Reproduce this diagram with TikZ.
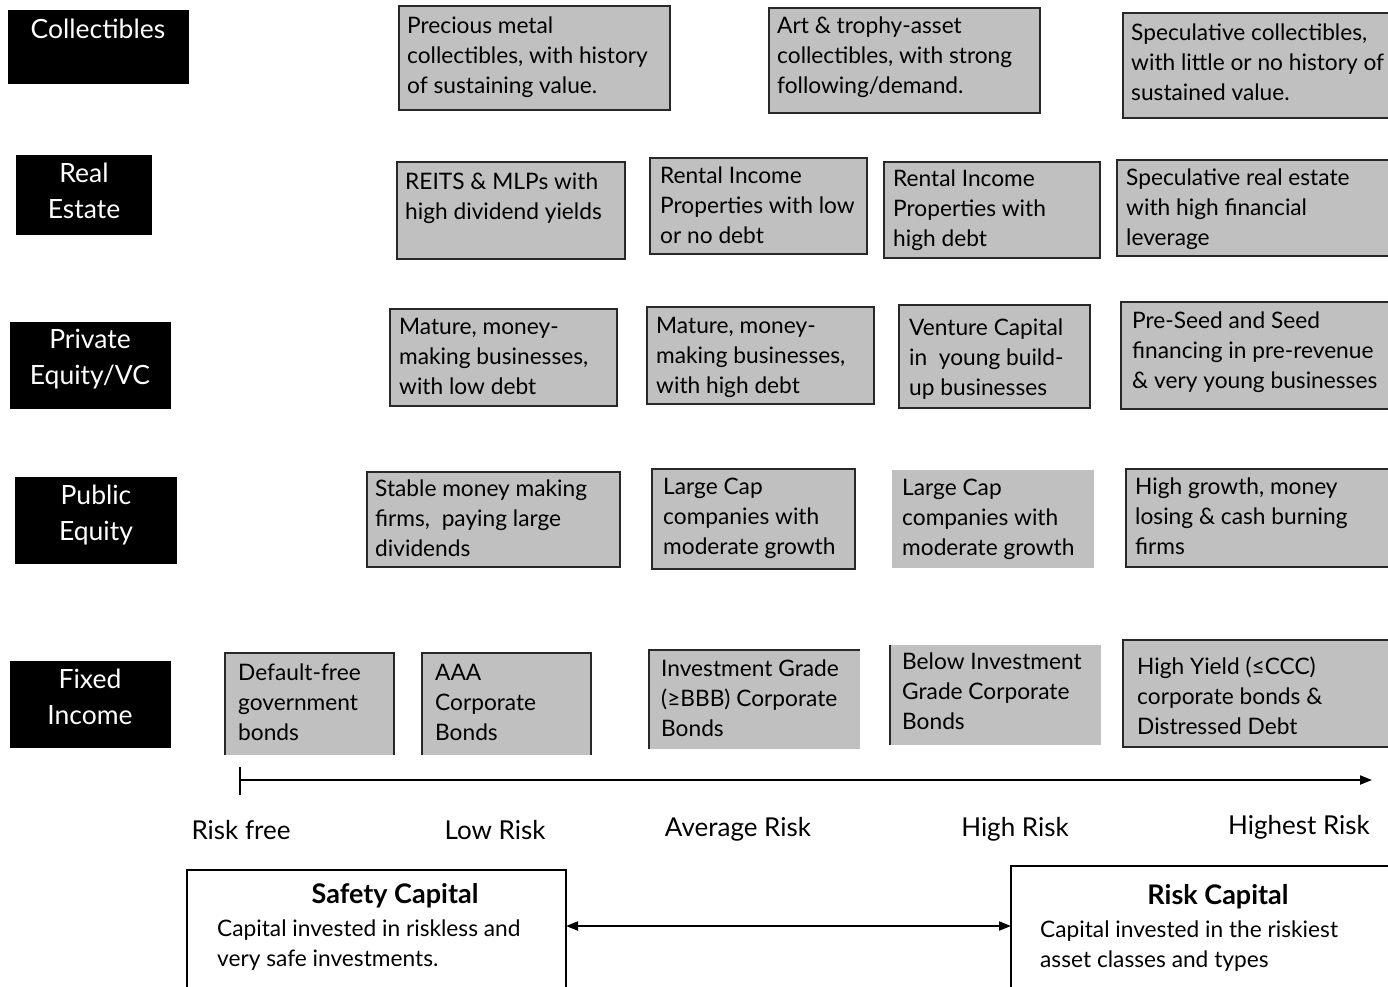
\documentclass[tikz,border=0pt]{standalone}
\usepackage{fontspec}
\setmainfont{Lato}
\usetikzlibrary{arrows.meta}
\definecolor{boxgray}{RGB}{192,192,192}
\definecolor{edge}{RGB}{40,40,40}
\begin{document}
\begin{tikzpicture}[x=1pt,y=-1pt,
  catbox/.style={fill=black,draw=none,anchor=north west,inner sep=0,outer sep=0},
  gbox/.style={fill=boxgray,draw=edge,line width=2,anchor=north west,inner sep=0,outer sep=0},
  nbox/.style={fill=boxgray,draw=none,anchor=north west,inner sep=0,outer sep=0},
  btxt/.style={anchor=north west,inner sep=0,yshift=-5pt,align=left,font=\fontsize{22.7}{30}\selectfont,execute at begin node=\strut},
  ctxt/.style={anchor=north,inner sep=0,yshift=-6pt,align=center,text=white,font=\fontsize{26.5}{36}\selectfont,execute at begin node=\strut},
  risk/.style={anchor=base,inner sep=0,font=\fontsize{26}{30}\selectfont},
  capbox/.style={draw=black,line width=2,fill=white,anchor=north west,inner sep=0,outer sep=0},
  captitle/.style={anchor=base,inner sep=0,font=\fontsize{27}{30}\selectfont\bfseries},
  edgeline/.style={draw=edge,line width=2},
  arr/.style={line width=2,-{Triangle[length=12,width=9]}},
  darr/.style={line width=2,{Triangle[length=12,width=9]}-{Triangle[length=12,width=9]}}
]
\useasboundingbox (0,0) rectangle (1388,986);
% category boxes
\node[catbox,minimum width=181,minimum height=74] (kcol) at (8,10) {};
\node[ctxt] (tcol) at (98,7.3) {Collectibles};
\node[catbox,minimum width=136,minimum height=80] (kre) at (16,155) {};
\node[ctxt] (tre) at (84,156.3) {Real\\Estate};
\node[catbox,minimum width=161,minimum height=87] (kpe) at (10,322) {};
\node[ctxt] (tpe) at (90,323.3) {Private\\Equity/VC};
\node[catbox,minimum width=162,minimum height=87] (kpub) at (15,477) {};
\node[ctxt] (tpub) at (96,478.3) {Public\\Equity};
\node[catbox,minimum width=161,minimum height=87] (kfi) at (10,661) {};
\node[ctxt] (tfi) at (90,662.3) {Fixed\\Income};
% row 1
\node[gbox,minimum width=271,minimum height=104] (b11) at (399,6) {};
\node[btxt] (t11) at (407,12) {Precious metal\\collectibles, with history\\of sustaining value.};
\node[gbox,minimum width=271,minimum height=105] (b12) at (769,8) {};
\node[btxt] (t12) at (777,12) {Art \& trophy-asset\\collectibles, with strong\\following/demand.};
\node[gbox,minimum width=275,minimum height=105] (b13) at (1123,13) {};
\node[btxt] (t13) at (1131,19) {Speculative collectibles,\\with little or no history of\\sustained value.};
% row 2
\node[gbox,minimum width=228,minimum height=97] (b21) at (397,162) {};
\node[btxt] (t21) at (405,168) {REITS \& MLPs with\\high dividend yields};
\node[gbox,minimum width=217,minimum height=96] (b22) at (650,158) {};
\node[btxt] (t22) at (660,162) {Rental Income\\Properties with low\\or no debt};
\node[gbox,minimum width=216,minimum height=96] (b23) at (884,162) {};
\node[btxt] (t23) at (893,165) {Rental Income\\Properties with\\high debt};
\node[gbox,minimum width=280,minimum height=96] (b24) at (1117,160) {};
\node[btxt] (t24) at (1126,164) {Speculative real estate\\with high financial\\leverage};
% row 3
\node[gbox,minimum width=227,minimum height=97] (b31) at (390,309) {};
\node[btxt] (t31) at (399,313) {Mature, money-\\making businesses,\\with low debt};
\node[gbox,minimum width=227,minimum height=97] (b32) at (647,307) {};
\node[btxt] (t32) at (656,312) {Mature, money-\\making businesses,\\with high debt};
\node[gbox,minimum width=191,minimum height=103] (b33) at (899,305) {};
\node[btxt] (t33) at (909,314) {Venture Capital\\in\ \ young build-\\up businesses};
\node[gbox,minimum width=275,minimum height=107] (b34) at (1121,302) {};
\node[btxt] (t34) at (1132,307) {Pre-Seed and Seed\\financing in pre-revenue\\\& very young businesses};
% row 4
\node[gbox,minimum width=253,minimum height=95] (b41) at (367,472) {};
\node[btxt] (t41) at (375,475) {Stable money making\\firms,\ \ paying large\\dividends};
\node[gbox,minimum width=203,minimum height=100] (b42) at (652,469) {};
\node[btxt] (t42) at (663,473) {Large Cap\\companies with\\moderate growth};
\node[nbox,minimum width=202,minimum height=98] (b43) at (892,470) {};
\node[btxt] (t43) at (902,474) {Large Cap\\companies with\\moderate growth};
\node[gbox,minimum width=270,minimum height=98] (b44) at (1126,469) {};
\node[btxt] (t44) at (1135,473) {High growth, money\\losing \& cash burning\\firms};
% row 5
\node[nbox,minimum width=169,minimum height=102] (b51) at (225,653) {};
\draw[edgeline] (b51.south west) -- (b51.north west) -- (b51.north east) -- (b51.south east);
\node[btxt] (t51) at (238,659) {Default-free\\government\\bonds};
\node[nbox,minimum width=169,minimum height=102] (b52) at (422,653) {};
\draw[edgeline] (b52.south west) -- (b52.north west) -- (b52.north east) -- (b52.south east);
\node[btxt] (t52) at (435,659) {AAA\\Corporate\\Bonds};
\node[nbox,minimum width=211,minimum height=99] (b53) at (649,650) {};
\draw[edgeline] (b53.south west) -- (b53.north west) -- (b53.north east);
\node[btxt] (t53) at (661,655) {Investment Grade\\(≥BBB) Corporate\\Bonds};
\node[nbox,minimum width=211,minimum height=100] (b54) at (890,645) {};
\draw[edgeline] (b54.south west) -- (b54.north west);
\node[btxt] (t54) at (902,648) {Below Investment\\Grade Corporate\\Bonds};
\node[gbox,minimum width=275,minimum height=107] (b55) at (1123,640) {};
\node[btxt] (t55) at (1137,652) {High Yield (≤CCC)\\corporate bonds \&\\Distressed Debt};
% axis
\coordinate (ax0) at (240,780);
\coordinate (ax1) at (1372,780);
\coordinate (tk0) at (240,767);
\coordinate (tk1) at (240,795);
\draw[arr] (ax0) -- (ax1);
\draw[line width=2] (tk0) -- (tk1);
\node[risk] (r1) at (241,839) {Risk free};
\node[risk] (r2) at (495,839) {Low Risk};
\node[risk] (r3) at (738,836) {Average Risk};
\node[risk] (r4) at (1015,836) {High Risk};
\node[risk] (r5) at (1299,834) {Highest Risk};
% capital boxes
\node[capbox,minimum width=379,minimum height=130] (safe) at (187,870) {};
\node[captitle] (safet) at (395,903) {Safety Capital};
\node[btxt] (safeb) at (217,915) {Capital invested in riskless and\\very safe investments.};
\node[capbox,minimum width=385,minimum height=134] (riskc) at (1011,866) {};
\node[captitle] (riskt) at (1218,904) {Risk Capital};
\node[btxt] (riskb) at (1040,916) {Capital invested in the riskiest\\asset classes and types};
\coordinate (ay) at (0,926);
\draw[darr] (safe.east |- ay) -- (riskc.west |- ay);
\end{tikzpicture}
\end{document}
